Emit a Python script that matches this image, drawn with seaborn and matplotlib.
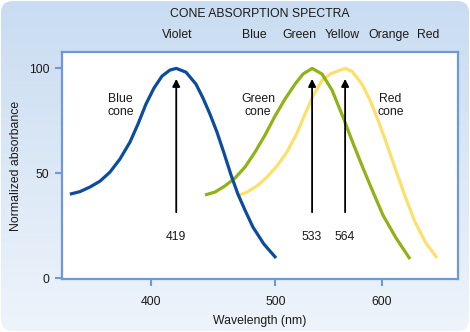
import numpy as np
import pandas as pd
import matplotlib
matplotlib.use("Agg")
import matplotlib.pyplot as plt
import seaborn as sns
from matplotlib.patches import FancyBboxPatch
from matplotlib.colors import LinearSegmentedColormap

# ---------------- data ----------------
blue_wl = [343.2, 349.9, 356.7, 363.6, 370.5, 377.5, 384.7, 390.5, 396.3, 402.2,
           408.2, 414.2, 419.0, 426.5, 434.3, 439.8, 445.4, 451.0, 456.7, 462.5,
           468.2, 474.1, 480.8, 490.2, 500.7]
blue_abs = [40.1, 41.3, 43.5, 46.3, 50.6, 56.8, 64.9, 73.5, 83.0, 90.6,
            96.3, 99.2, 100.0, 98.2, 92.5, 85.9, 78.2, 69.7, 59.7, 49.2,
            40.1, 32.5, 24.4, 16.3, 9.7]

green_wl = [441.4, 449.4, 457.5, 465.8, 474.1, 482.5, 491.1, 499.8, 508.6, 517.5,
            524.7, 533.0, 542.2, 551.5, 562.0, 571.6, 581.4, 591.3, 601.3, 614.6,
            629.1]
green_abs = [39.7, 41.1, 44.0, 47.8, 53.0, 60.1, 68.2, 77.3, 85.4, 92.5,
             97.3, 100.0, 97.3, 89.7, 76.8, 64.4, 52.5, 41.1, 30.1, 19.2,
             9.2]

red_wl = [467.4, 475.8, 484.2, 492.8, 501.5, 510.3, 519.3, 526.5, 533.8, 542.2,
          550.6, 564.0, 570.7, 580.4, 588.3, 596.3, 604.4, 613.6, 623.9, 634.4,
          646.0, 657.9]
red_abs = [39.2, 41.1, 44.0, 48.2, 53.5, 60.1, 69.2, 78.2, 86.8, 94.4,
           97.5, 100.0, 98.6, 92.5, 84.9, 75.4, 64.9, 52.5, 39.2, 26.8,
           16.8, 9.7]

peak_wl = [419, 533, 564]
peak_labels = ["419", "533", "564"]

cone_names = ["Blue\ncone", "Green\ncone", "Red\ncone"]
cone_label_wl = [378, 485, 609]

color_names = ["Violet", "Blue", "Green", "Yellow", "Orange", "Red"]
color_wl = [420, 482, 521, 561, 607, 648]

x_ticks = [400, 500, 600]
y_ticks = [0, 50, 100]

title = "CONE ABSORPTION SPECTRA"
x_label = "Wavelength (nm)"
y_label = "Normalized absorbance"

# ---------------- styling ----------------
sns.set_style("white")
plt.rcParams["font.family"] = ["Liberation Sans", "DejaVu Sans"]

BLUE = "#0b4c9e"
GREEN = "#8fb214"
YELLOW = "#fde06c"
FRAME = "#6f99d6"
TEXT = "#1a1a1a"
FS = 8.8

W, H = 470, 332
fig = plt.figure(figsize=(W / 100, H / 100), dpi=100)
fig.patch.set_facecolor("white")

# rounded gradient background
bg = fig.add_axes([0, 0, 1, 1], zorder=-10)
bg.set_xlim(0, W)
bg.set_ylim(0, H)
bg.axis("off")
grad = np.linspace(0, 1, 256).reshape(-1, 1)
cmap = LinearSegmentedColormap.from_list("bgc", ["#eef4fb", "#c9dcf1"])
im = bg.imshow(grad, extent=[0, W, 0, H], origin="lower", cmap=cmap,
               aspect="auto", interpolation="bicubic")
box = FancyBboxPatch((1, 1), W - 2, H - 2, boxstyle="round,pad=0,rounding_size=12",
                     transform=bg.transData, facecolor="none", edgecolor="none")
bg.add_patch(box)
im.set_clip_path(box)

# main axes: pixel box x 62..458, y 52..279
ax = fig.add_axes([62 / W, (H - 279) / H, 396 / W, 227 / H])
ax.set_facecolor("white")

fwd = lambda x: np.log(np.clip(np.asarray(x, dtype=float) + 150.0, 1e-6, None))
inv = lambda y: np.exp(y) - 150.0
ax.set_xscale("function", functions=(fwd, inv))

df = pd.concat([
    pd.DataFrame({"wl": blue_wl, "abs": blue_abs, "cone": "blue"}),
    pd.DataFrame({"wl": green_wl, "abs": green_abs, "cone": "green"}),
    pd.DataFrame({"wl": red_wl, "abs": red_abs, "cone": "red"}),
])
palette = {"blue": BLUE, "green": GREEN, "red": YELLOW}
for cone in ["red", "green", "blue"]:
    sub = df[df["cone"] == cone]
    sns.lineplot(data=sub, x="wl", y="abs", ax=ax, color=palette[cone],
                 linewidth=2.3, legend=False, solid_capstyle="butt",
                 solid_joinstyle="round")
for line, z in zip(ax.lines, [2, 3, 4]):
    line.set_zorder(z)

ax.set_xlim(338, 681)
ax.set_ylim(-0.3, 107.8)

# arrows at peaks
for wl, lab in zip(peak_wl, peak_labels):
    ax.annotate("", xy=(wl, 95), xytext=(wl, 31.5),
                arrowprops=dict(arrowstyle="-|>", color="black", lw=1.3,
                                mutation_scale=11, shrinkA=0, shrinkB=0),
                zorder=6)
    ax.text(wl, 19.5, lab, ha="center", va="center", fontsize=FS, color=TEXT)

for name, wl in zip(cone_names, cone_label_wl):
    ax.text(wl, 82.5, name, ha="center", va="center", fontsize=FS,
            color=TEXT, linespacing=1.1)

# colour names above the plot
trans = ax.get_xaxis_transform()
for name, wl in zip(color_names, color_wl):
    ax.text(wl, 1.075, name, transform=trans, ha="center", va="center",
            fontsize=FS, color=TEXT, clip_on=False)
ax.text(0.5, 1.167, title, transform=ax.transAxes, ha="center", va="center",
        fontsize=FS, color=TEXT)

ax.set_xticks(x_ticks)
ax.set_xticklabels([str(t) for t in x_ticks])
ax.set_yticks(y_ticks)
ax.set_yticklabels([str(t) for t in y_ticks])
ax.minorticks_off()
ax.tick_params(axis="both", direction="out", length=5, width=1.5, color=FRAME,
               labelsize=FS, labelcolor=TEXT)
ax.tick_params(axis="x", bottom=True, pad=7)
ax.tick_params(axis="y", left=True, pad=4)
for s in ax.spines.values():
    s.set_visible(True)
    s.set_color(FRAME)
    s.set_linewidth(1.6)

ax.set_xlabel(x_label, fontsize=FS, color=TEXT, labelpad=5)
ax.set_ylabel(y_label, fontsize=FS, color=TEXT, labelpad=5)

fig.savefig("out.png", dpi=100)
